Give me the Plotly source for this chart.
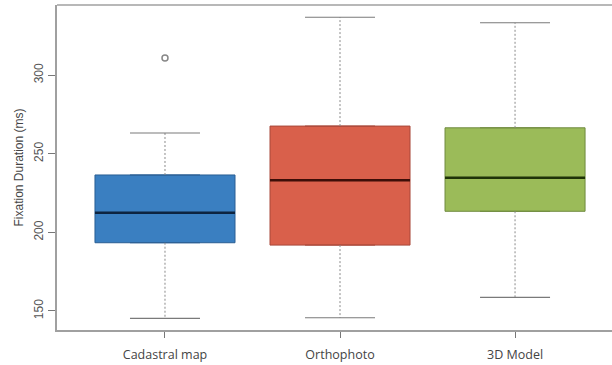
import plotly.graph_objects as go

categories = ["Cadastral map", "Orthophoto", "3D Model"]
q1 = [193.4, 191.9, 213.4]
median = [212.5, 233.1, 234.7]
q3 = [236.5, 267.6, 266.5]
whisker_low = [145.3, 145.7, 158.7]
whisker_high = [263.2, 336.8, 333.3]
outlier_cat = ["Cadastral map"]
outlier_val = [310.9]

fills = ["#3a7fc1", "#d9604b", "#9bbb59"]
edges = ["#2a5f93", "#a8483a", "#6f8a3f"]
med_colors = ["#0d2440", "#3d0e08", "#1f3308"]

fig = go.Figure()
pos = list(range(len(categories)))

for i, c in enumerate(categories):
    fig.add_trace(go.Box(
        x=[i], q1=[q1[i]], median=[median[i]], q3=[q3[i]],
        lowerfence=[q1[i]], upperfence=[q3[i]],
        width=0.8, fillcolor=fills[i], line=dict(color=edges[i], width=1),
        boxpoints=False, showlegend=False, hoverinfo="skip"))
    # median
    fig.add_trace(go.Scatter(x=[i - 0.4, i + 0.4], y=[median[i], median[i]], mode="lines",
                             line=dict(color=med_colors[i], width=2.5), showlegend=False, hoverinfo="skip"))
    # whiskers
    fig.add_trace(go.Scatter(x=[i, i, None, i, i], y=[q3[i], whisker_high[i], None, q1[i], whisker_low[i]],
                             mode="lines", line=dict(color="#8a8a8a", width=1, dash="2px,2px"),
                             showlegend=False, hoverinfo="skip"))
    # caps
    fig.add_trace(go.Scatter(x=[i - 0.2, i + 0.2, None, i - 0.2, i + 0.2],
                             y=[whisker_high[i], whisker_high[i], None, whisker_low[i], whisker_low[i]],
                             mode="lines", line=dict(color="#7a7a7a", width=1.2),
                             showlegend=False, hoverinfo="skip"))

fig.add_trace(go.Scatter(x=[categories.index(c) for c in outlier_cat], y=outlier_val, mode="markers",
                         marker=dict(symbol="circle-open", size=6, color="#888888", line=dict(width=1.5)),
                         showlegend=False, hoverinfo="skip"))

fig.add_shape(type="line", xref="paper", yref="paper", x0=0, x1=1, y0=1, y1=1,
              line=dict(color="#a0a0a0", width=1.5))

fig.update_layout(
    width=612, height=365,
    margin=dict(l=57, r=0, t=5, b=35, autoexpand=False),
    paper_bgcolor="white", plot_bgcolor="white",
    xaxis=dict(range=[-0.617, 2.554], tickmode="array", tickvals=pos, ticktext=categories,
               showgrid=False, zeroline=False, showline=True, linecolor="#a0a0a0", linewidth=1.5,
               ticks="outside", ticklen=6, tickcolor="#777777", automargin=False,
               ticklabelstandoff=6,
               tickfont=dict(family="Open Sans", size=12.5, color="#444444")),
    yaxis=dict(range=[137.9, 344.6], tickvals=[150, 200, 250, 300], tickangle=-90,
               showgrid=False, zeroline=False, showline=True, linecolor="#a0a0a0", linewidth=1.5,
               ticks="outside", ticklen=7, tickcolor="#777777", automargin=False,
               tickfont=dict(family="Liberation Sans", size=12, color="#555555"),
               title=dict(text="Fixation Duration (ms)", standoff=6,
                          font=dict(family="Liberation Sans", size=12, color="#444444"))),
)

fig.write_html("out.html", config={"displayModeBar": False},
               post_script="document.body.style.margin='0';document.body.style.overflow='hidden';")
